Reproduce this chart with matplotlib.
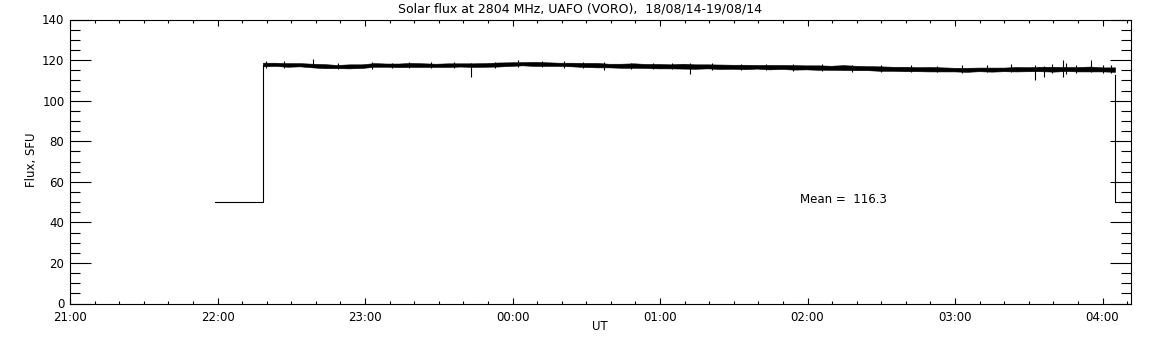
import numpy as np
import matplotlib
matplotlib.use('Agg')
import matplotlib.pyplot as plt
from matplotlib.ticker import MultipleLocator, FixedLocator

# Zeit in Stunden nach 21:00 UT
hour_labels = ["21:00", "22:00", "23:00", "00:00", "01:00", "02:00", "03:00", "04:00"]

# Offline-Niveau vor / nach der Messung (SFU)
offline_level = 50
offline_start = 0.983   # ~21:59
flux_start = 1.308      # ~22:18
flux_end = 7.085        # ~04:05
offline_end = 7.30

# Mittelwert des Flussbandes alle 5 Minuten, 22:18 ... 04:05
flux_center = [
    117.8, 117.9, 117.6, 117.7,
    117.3, 117.0, 116.8, 116.9, 117.0,
    117.6, 117.5, 117.4, 117.6, 117.5,
    117.4, 117.5, 117.6, 117.5, 117.6, 117.8,
    118.0, 118.2, 118.1, 118.0, 117.9, 117.8,
    117.6, 117.5, 117.3, 117.2, 117.3, 117.1,
    117.0, 116.9, 117.0, 116.8, 116.9, 116.7,
    116.7, 116.6, 116.7, 116.5, 116.6, 116.4,
    116.4, 116.3, 116.2, 116.3, 116.1, 116.0,
    115.8, 115.7, 115.6, 115.5, 115.5, 115.4,
    115.3, 115.2, 115.4, 115.3, 115.4, 115.5,
    115.5, 115.6, 115.5, 115.6, 115.5, 115.6,
    115.4, 115.3,
]
# halbe Bandbreite (Rauschen)
flux_spread = [
    0.9, 0.8, 0.9, 0.8,
    0.9, 1.0, 0.8, 1.0, 0.9,
    0.9, 0.8, 0.9, 1.0, 0.9,
    0.8, 0.9, 0.8, 0.9, 0.9, 1.0,
    0.9, 0.8, 1.0, 0.9, 0.8, 0.9,
    1.0, 1.1, 0.9, 1.0, 1.1, 1.0,
    1.1, 1.0, 1.2, 1.1, 1.0, 1.1,
    1.0, 1.1, 0.9, 1.1, 1.0, 1.1,
    1.0, 1.1, 1.0, 1.2, 1.1, 1.0,
    1.1, 1.0, 1.1, 1.0, 1.1, 1.0,
    0.9, 1.0, 0.9, 1.0, 0.9, 1.1,
    1.0, 1.1, 1.2, 1.0, 1.1, 1.2,
    1.0, 1.1,
]
# Einzelne Spitzen: (Zeit in h, unten, oben)
spike_time = [1.33, 1.45, 1.65, 1.82, 2.05, 2.18, 2.30, 2.45, 2.60, 2.72,
              2.88, 3.04, 3.20, 3.35, 3.48, 3.62, 3.80, 3.95, 4.08, 4.20,
              4.35, 4.55, 4.72, 4.90, 5.10, 5.30, 5.50, 5.70, 5.88, 6.05,
              6.22, 6.38, 6.54, 6.60, 6.66, 6.73, 6.75, 6.82, 6.92, 7.00, 7.06]
spike_low = [116.0, 116.3, 116.5, 115.4, 115.6, 116.2, 116.0, 116.1, 116.0, 111.9,
             116.3, 116.5, 116.6, 116.0, 115.9, 115.3, 115.8, 115.4, 115.5, 112.9,
             115.2, 115.0, 114.9, 114.8, 114.6, 114.3, 114.2, 114.0, 113.9, 113.8,
             114.0, 114.0, 110.3, 111.9, 113.6, 111.5, 113.0, 113.8, 114.0, 113.5, 113.7]
spike_high = [119.5, 119.3, 120.6, 118.4, 118.9, 118.8, 119.2, 118.9, 118.9, 118.8,
              119.1, 119.8, 119.6, 119.5, 119.0, 119.0, 118.7, 118.6, 118.7, 118.5,
              118.5, 118.3, 118.1, 118.0, 117.9, 117.8, 117.6, 117.5, 117.3, 117.4,
              117.6, 118.2, 117.5, 117.3, 118.0, 120.1, 118.8, 117.7, 120.1, 117.6, 117.5]

mean_value = 116.3

flux_time = np.linspace(flux_start, flux_end, len(flux_center))
center = np.array(flux_center)
spread = np.array(flux_spread)

fig = plt.figure(figsize=(11.52, 3.45), dpi=100)
ax = fig.add_axes([70 / 1152, 1 - 303.5 / 345, 1061 / 1152, 284 / 345])

lw = 0.8
# Offline-Stufen und Sprünge
ax.plot([offline_start, flux_start, flux_start], [offline_level, offline_level, center[0]],
        color='black', lw=lw)
ax.plot([flux_end, flux_end, offline_end], [center[-1] - 2.5, offline_level, offline_level],
        color='black', lw=lw)
ax.fill_between(flux_time, center - spread, center + spread, color='black', lw=0.4,
                edgecolor='black')
ax.vlines(spike_time, spike_low, spike_high, color='black', lw=lw)

ax.set_xlim(0, 7.193)
ax.set_ylim(0, 140)
ax.xaxis.set_major_locator(FixedLocator(range(len(hour_labels))))
ax.set_xticklabels(hour_labels)
ax.xaxis.set_minor_locator(MultipleLocator(1 / 6))
ax.yaxis.set_major_locator(MultipleLocator(20))
ax.yaxis.set_minor_locator(MultipleLocator(5))

ax.tick_params(which='both', direction='in', top=True, right=True, width=0.8,
               labelsize=8.5)
ax.tick_params(axis='x', which='major', length=4, pad=5.5)
ax.tick_params(axis='x', which='minor', length=2)
ax.tick_params(axis='y', which='major', length=15, pad=4)
ax.tick_params(axis='y', which='minor', length=7.5)
for s in ax.spines.values():
    s.set_linewidth(0.8)

fig.text(580 / 1152, 1 - 9 / 345, "Solar flux at 2804 MHz, UAFO (VORO),  18/08/14-19/08/14",
         ha='center', va='center', fontsize=9)
fig.text(32 / 1152, 1 - 160 / 345, "Flux, SFU", rotation=90, ha='center', va='center',
         fontsize=8.5)
fig.text(600 / 1152, 1 - 327 / 345, "UT", ha='center', va='center', fontsize=8.5)
ax.text(4.95, 51.5, "Mean =  %.1f" % mean_value, ha='left', va='center', fontsize=8.5)

fig.savefig('out.png', dpi=100, facecolor='white')
